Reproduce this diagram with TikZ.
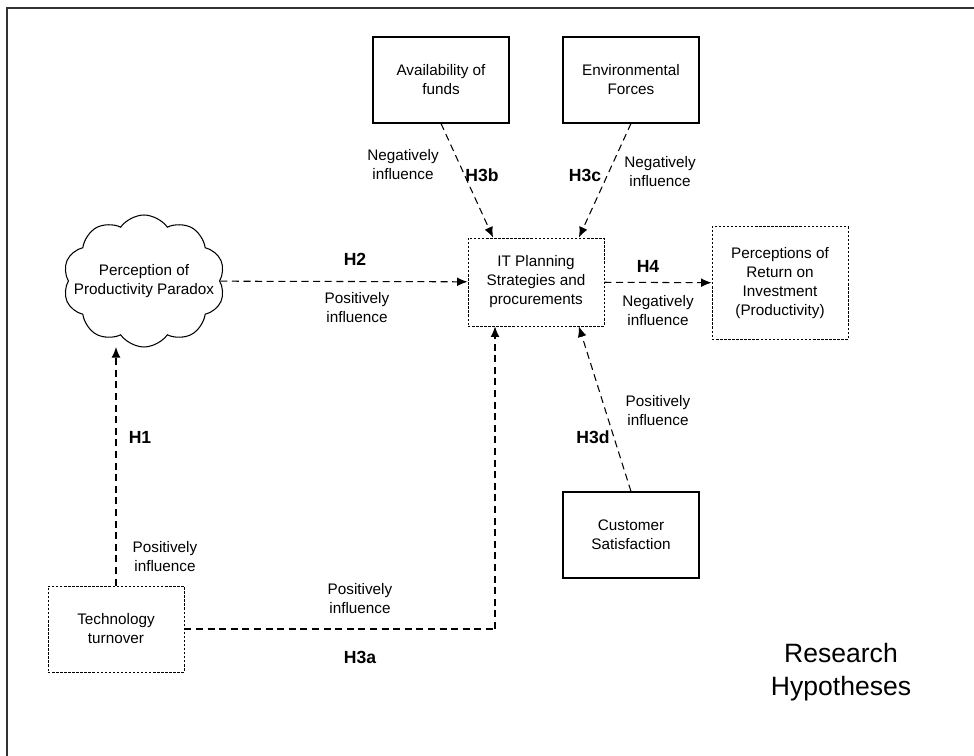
\documentclass[tikz,border=0pt]{standalone}
\usepackage{fontspec}
\setmainfont{Liberation Sans}
\usepackage{tikz}
\usetikzlibrary{arrows.meta}
\usetikzlibrary{shapes.symbols}

\tikzset{
    solidbox/.style={draw=black,line width=0.6pt,minimum width=2.72cm,minimum height=1.72cm,align=center,font=\fontsize{8.7}{10.8}\selectfont},
    dotbox/.style={solidbox,line width=0.5pt,dash pattern=on 1.4pt off 0.9pt},
    hlabel/.style={font=\fontsize{10}{12}\selectfont\bfseries},
    inflabel/.style={align=center,font=\fontsize{8.7}{10.8}\selectfont},
    link/.style={draw=black,line width=0.6pt,dash pattern=on 4pt off 2.6pt,-{Latex[length=6pt,width=5pt]}}
}

\begin{document}
\begin{tikzpicture}[x=0.02cm,y=0.02cm]
\useasboundingbox (0,0) rectangle (974,756);
\draw[line width=1pt,black!80] (7,0) -- (7,748) -- (974,748);

\begin{scope}
    \node[solidbox] (funds) at (441,676) {Availability of\\funds};
    \node[solidbox] (env) at (631,676) {Environmental\\Forces};
    \node[dotbox,minimum height=1.76cm] (it) at (536,474) {IT Planning\\Strategies and\\procurements};
    \node[dotbox,minimum height=2.26cm] (roi) at (780,473) {Perceptions of\\Return on\\Investment\\(Productivity)};
    \node[cloud,cloud puffs=10,cloud puff arc=110,aspect=1.25,draw=black,line width=0.6pt,
          inner sep=0pt,minimum width=3.24cm,minimum height=2.64cm] (paradox) at (144,475) {};
    \node[align=center,font=\fontsize{8.7}{10.8}\selectfont] (paradoxtext) at (144,475) {Perception of\\Productivity Paradox};
    \node[dotbox] (tech) at (116,127) {Technology\\turnover};
    \node[solidbox] (cust) at (631,221) {Customer\\Satisfaction};
    \node[align=center,font=\fontsize{15.1}{18.8}\selectfont] (title) at (841,84) {Research\\Hypotheses};
    \coordinate (turn) at (495,127);
    \coordinate (cloudfoot) at (116,409);
\end{scope}

\begin{scope}[every edge/.style={link}]
    \path (tech.north) edge (cloudfoot);
    \path (paradox) edge (it);
    \draw [link,-] (tech.east) -- (turn);
    \path (turn) edge (turn |- it.south);
    \path (funds.south) edge (it.134);
    \path (env.south) edge (it.46);
    \path (it) edge (roi);
    \path (cust.north) edge (it.-46);
\end{scope}

\begin{scope}
    \node[hlabel] (h1) at (140,319) {H1};
    \node[hlabel] (h2) at (355,497) {H2};
    \node[hlabel] (h3a) at (360,99) {H3a};
    \node[hlabel] (h3b) at (482,581) {H3b};
    \node[hlabel] (h3c) at (585,581) {H3c};
    \node[hlabel] (h3d) at (593,319) {H3d};
    \node[hlabel] (h4) at (648,490) {H4};
    \node[inflabel] (i1) at (165,199) {Positively\\influence};
    \node[inflabel] (i2) at (357,448) {Positively\\influence};
    \node[inflabel] (i3a) at (360,157) {Positively\\influence};
    \node[inflabel] (i3b) at (403,591) {Negatively\\influence};
    \node[inflabel] (i3c) at (660,584) {Negatively\\influence};
    \node[inflabel] (i3d) at (658,345) {Positively\\influence};
    \node[inflabel] (i4) at (658,445) {Negatively\\influence};
\end{scope}
\end{tikzpicture}
\end{document}
